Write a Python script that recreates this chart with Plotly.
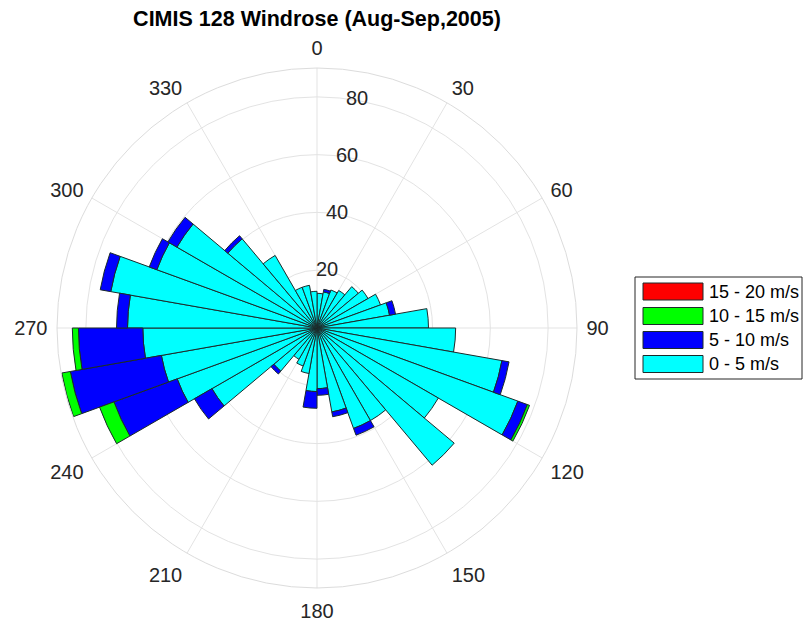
import plotly.graph_objects as go

# Direction bins (deg, clockwise from North), 10-degree sectors
bin_starts = list(range(0, 360, 10))
theta_centers = [b + 5 for b in bin_starts]

# Frequency contributions per speed class (stacked)
speed_0_5 = [12, 12.7, 14, 15, 18.7, 20.4, 23.4, 25.5, 38.6,
             48, 65, 74, 48.5, 62, 37, 37, 29.5, 21,
             22, 16, 14, 12.5, 19.5, 42, 51.5, 54.7, 60.3,
             65.6, 72.5, 59, 56, 40.3, 29, 15, 15, 12.7]
speed_5_10 = [0, 0.9, 0, 0, 0, 0, 0, 2.1, 0,
              0, 2.5, 3.5, 0, 0, 0, 2.5, 1.7, 2.3,
              5.8, 0, 0, 0, 1.3, 7, 23.3, 32, 22.3,
              3.8, 3.7, 2.8, 3.6, 1.4, 0, 0, 0, 0]
speed_10_15 = [0, 0, 0, 0, 0, 0, 0, 0, 0,
               0, 0, 0.8, 0, 0, 0, 0, 0, 0,
               0, 0, 0, 0, 0, 0, 5.3, 3, 2.1,
               0, 0, 0, 0, 0, 0, 0, 0, 0]
speed_15_20 = [0] * 36

series_names = ["0 - 5 m/s", "5 - 10 m/s", "10 - 15 m/s", "15 - 20 m/s"]
series_values = [speed_0_5, speed_5_10, speed_10_15, speed_15_20]
series_colors = ["#00FFFF", "#0000FF", "#00FF00", "#FF0000"]

angular_ticks = list(range(0, 360, 30))
radial_ticks = [20, 40, 60, 80]
radial_max = 90

title_text = "CIMIS 128 Windrose (Aug-Sep,2005)"

W, H = 803, 622
fig = go.Figure()
for name, vals, col in zip(series_names, series_values, series_colors):
    fig.add_trace(go.Barpolar(
        r=vals, theta=theta_centers, width=[10] * 36, name=name,
        marker=dict(color=col, line=dict(color="#1c2b2b", width=1)),
        showlegend=False, hoverinfo="skip",
    ))

# Radial tick labels, centred on the rings along the 10-degree line
fig.add_trace(go.Scatterpolar(
    r=radial_ticks, theta=[10] * len(radial_ticks), mode="text",
    text=[str(t) for t in radial_ticks], textposition="middle center",
    textfont=dict(size=20, color="#262626", family="Liberation Sans, Arial, sans-serif"),
    showlegend=False, hoverinfo="skip", cliponaxis=False,
))

cx, cy, R = 317, 328, 260
fig.update_layout(
    width=W, height=H,
    margin=dict(l=0, r=0, t=0, b=0),
    paper_bgcolor="white",
    font=dict(family="Liberation Sans, Arial, sans-serif", size=20, color="#262626"),
    title=dict(text="<b>" + title_text + "</b>", x=cx / W, y=1 - 18 / H,
               xanchor="center", yanchor="middle",
               font=dict(family="Liberation Sans, Arial, sans-serif", size=21.5, color="#000000")),
    polar=dict(
        domain=dict(x=[(cx - R) / W, (cx + R) / W], y=[1 - (cy + R) / H, 1 - (cy - R) / H]),
        bgcolor="white",
        barmode="stack",
        bargap=0,
        angularaxis=dict(
            rotation=90, direction="clockwise",
            tickmode="array", tickvals=angular_ticks,
            ticktext=[str(t) for t in angular_ticks],
            showline=True, linecolor="#dcdcdc", linewidth=1,
            gridcolor="#e3e3e3", gridwidth=1,
            ticks="outside", ticklen=5, tickcolor="rgba(0,0,0,0)",
            tickfont=dict(size=20, color="#262626"),
        ),
        radialaxis=dict(
            range=[0, radial_max], tickmode="array", tickvals=radial_ticks,
            showticklabels=False,
            showline=False, ticks="", gridcolor="#e3e3e3", gridwidth=1,
        ),
    ),
)

# Legend (drawn manually to match large colour swatches)
legend_order = [3, 2, 1, 0]
row_top = [283, 307.5, 331.5, 355.5]
sw_h = 17
shapes = [dict(type="rect", xref="paper", yref="paper",
               x0=635 / W, x1=802 / W, y0=1 - 379 / H, y1=1 - 277 / H,
               line=dict(color="#262626", width=1), fillcolor="white", layer="below")]
annotations = []
for k, idx in enumerate(legend_order):
    y0 = row_top[k]
    shapes.append(dict(type="rect", xref="paper", yref="paper",
                       x0=643 / W, x1=703 / W, y0=1 - (y0 + sw_h) / H, y1=1 - y0 / H,
                       line=dict(color="#1c2b2b", width=1), fillcolor=series_colors[idx]))
    annotations.append(dict(xref="paper", yref="paper", x=707 / W, y=1 - (y0 + sw_h / 2) / H,
                            xanchor="left", yanchor="middle", showarrow=False,
                            text=series_names[idx],
                            font=dict(size=18, color="#000000")))
fig.update_layout(shapes=shapes, annotations=annotations)

fig.write_html("out.html", config={"displayModeBar": False},
               post_script="document.body.style.margin='0px';")
